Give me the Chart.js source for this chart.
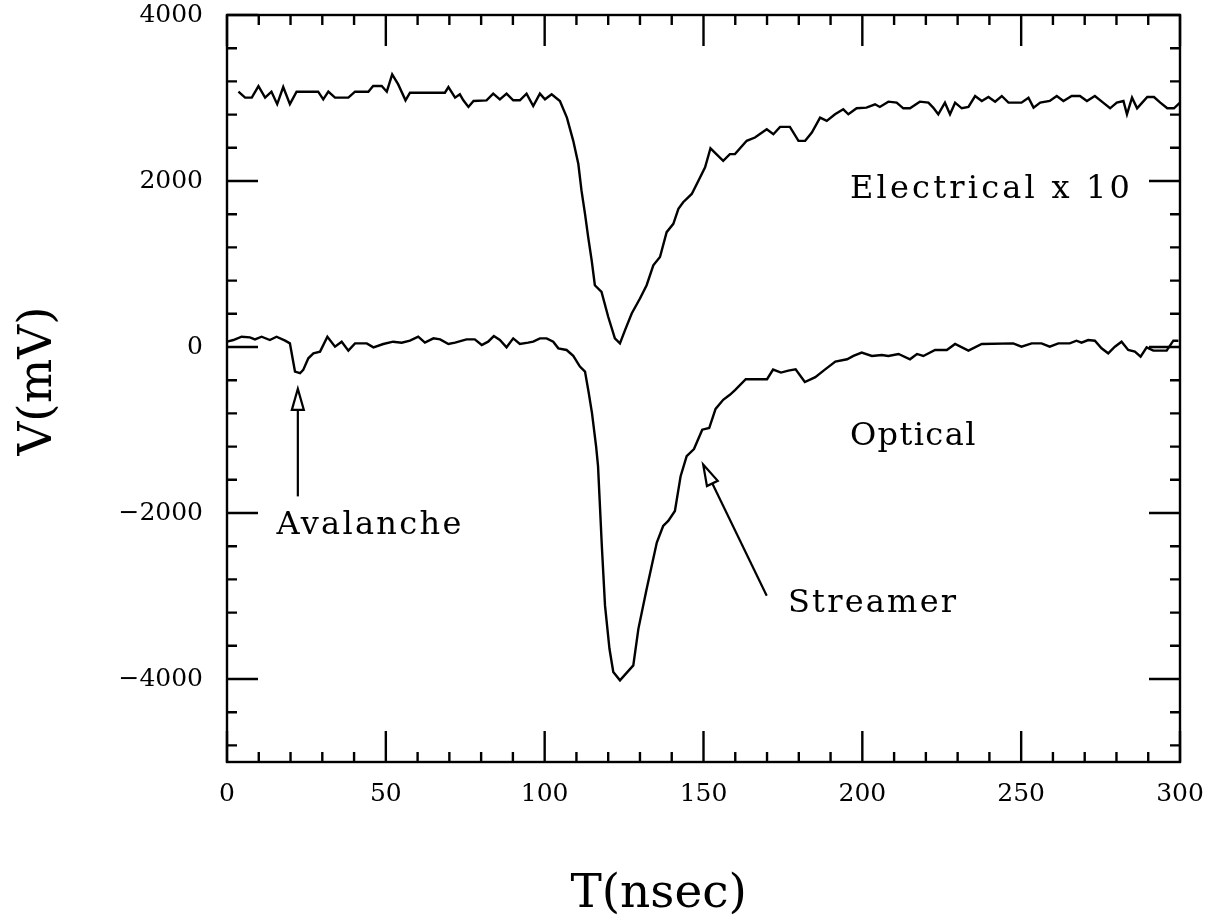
<!DOCTYPE html>
<html><head><meta charset="utf-8">
<script src="https://cdn.jsdelivr.net/npm/chart.js@4.4.1/dist/chart.umd.min.js"></script>
<style>html,body{margin:0;padding:0;background:#fff;} #wrap{width:1207px;height:923px;position:relative;}</style>
</head><body><div id="wrap"><canvas id="c"></canvas></div>
<script>
// Electrical x 10 trace
const elecT = [3.6,5.7,7.8,9.9,12,14,15.8,17.7,19.8,21.9,28.7,30.3,31.9,34,38.2,40.3,44.5,46,48.7,50.3,52,53.9,56.2,57.6,68.6,69.7,71.8,73.3,74.4,76,77.6,81.7,83.8,85.9,88,90.1,92.2,94.3,96.4,98.5,100.1,102.2,104.8,107,109,110.6,111.6,112.7,113.7,114.8,115.8,117.9,120,122.1,123.7,125.3,127.4,130,132.1,134.2,136.3,138.4,140.5,142.1,143.6,146.3,148.4,150.5,152.2,156.2,158.3,159.9,163.6,166.2,169.9,172,174.1,177.2,179.9,182,184.1,186.7,188.8,191.4,194,195.6,198.2,201.3,204,205.5,208.2,210.8,212.9,215,218.1,220.8,222.3,223.9,226,227.6,229.2,231.3,233.4,235.5,237.6,239.7,241.8,243.9,246,250.1,252.3,253.9,256,259,261.2,263.3,265.9,268.5,270.7,273.2,275.8,278,280.1,282.2,283.3,284.9,286.5,288.1,289.7,291.8,293.8,296,298.1,300];
const elecV = [3076,3004,3004,3144,3004,3076,2926,3132,2926,3076,3076,2984,3076,3004,3004,3076,3076,3144,3144,3076,3284,3164,2972,3064,3064,3132,3004,3044,2972,2892,2964,2972,3052,2984,3052,2972,2972,3052,2904,3052,2984,3044,2964,2764,2484,2204,1884,1604,1324,1044,744,664,364,104,44,204,404,584,744,984,1084,1384,1484,1664,1744,1844,2004,2164,2394,2244,2324,2324,2484,2524,2624,2564,2652,2652,2484,2484,2584,2764,2724,2804,2864,2804,2876,2884,2924,2892,2956,2944,2876,2876,2956,2944,2884,2804,2944,2804,2944,2876,2892,3024,2964,3012,2956,3024,2944,2944,3004,2884,2944,2964,3024,2964,3024,3024,2964,3024,2944,2876,2944,2964,2804,3004,2876,2944,3012,3012,2944,2876,2876,2944];
// Optical trace
const optT = [0,2,4.6,7.2,8.8,10.9,13.5,15.6,18.3,19.8,21.4,23,24,25.6,27.2,29.3,31.6,34,36.1,38.2,40.3,44,46.1,49.2,52.3,55,57.6,60.2,62.3,65,67.1,69.7,71.8,75.4,78,80.2,82.2,84,85.9,88,90.1,92.2,94.8,96.4,98.5,100.6,102.7,104.3,106.9,109,111.1,112.7,113.8,114.9,116.2,116.8,117.3,118,119,120.4,121.6,123.7,127.9,129.5,132.1,135.3,137.3,138.9,141,142.8,144.7,147,149.6,151.8,153.8,156.2,158.3,160,163.3,170,171.9,174.4,176.7,179,181.9,185.2,187.8,191.5,195.2,197.2,199.8,203,206.1,208.2,211.4,215,217.2,219.2,222.9,226.6,229.2,233.4,237.6,247.5,250.1,253.3,256.4,259,261.7,265.3,267.4,269,271.1,273.2,275.3,277.4,279.5,281.6,283.7,285.8,287.6,289.5,291.6,295.8,297.9,299.5];
const optV = [64,84,124,116,92,124,84,124,76,44,-296,-316,-276,-136,-76,-56,124,4,64,-44,44,44,-4,36,64,52,76,124,52,104,92,36,52,92,92,24,64,132,84,-4,104,36,52,64,104,104,64,-16,-36,-106,-236,-296,-536,-796,-1200,-1436,-1836,-2400,-3116,-3636,-3916,-4016,-3836,-3396,-2916,-2356,-2156,-2096,-1976,-1556,-1316,-1230,-996,-976,-746,-636,-576,-516,-388,-388,-272,-308,-284,-268,-422,-364,-284,-176,-148,-108,-68,-108,-96,-108,-84,-148,-84,-108,-36,-36,36,-44,36,44,4,44,44,4,44,44,76,52,84,76,-16,-76,4,64,-36,-56,-116,-4,-44,-44,76,76];

const xTickValues = [0,50,100,150,200,250,300];
const xTickLabels = ['0','50','100','150','200','250','300'];
const xMinorTicks = [10,20,30,40,60,70,80,90,110,120,130,140,160,170,180,190,210,220,230,240,260,270,280,290];
const yTickValues = [-4000,-2000,0,2000,4000];
const yTickLabels = ['\u22124000','\u22122000','0','2000','4000'];
const yMinorTicks = [-4800,-4400,-3600,-3200,-2800,-2400,-1600,-1200,-800,-400,400,800,1200,1600,2400,2800,3200,3600];

const SERIF = "'DejaVu Serif', serif";

const framePlugin = {
  id: 'frameTicks',
  afterDatasetsDraw(chart) {
    const {ctx, chartArea: a, scales: {x, y}} = chart;
    ctx.save();
    ctx.strokeStyle = '#000';
    ctx.lineWidth = 2.4;
    ctx.strokeRect(a.left, a.top, a.right - a.left, a.bottom - a.top);
    ctx.beginPath();
    const xt = (v, len) => { const p = x.getPixelForValue(v); ctx.moveTo(p, a.bottom); ctx.lineTo(p, a.bottom - len); ctx.moveTo(p, a.top); ctx.lineTo(p, a.top + len); };
    const yt = (v, len) => { const p = y.getPixelForValue(v); ctx.moveTo(a.left, p); ctx.lineTo(a.left + len, p); ctx.moveTo(a.right, p); ctx.lineTo(a.right - len, p); };
    xTickValues.forEach(v => xt(v, 31));
    xMinorTicks.forEach(v => xt(v, 10));
    yTickValues.forEach(v => yt(v, 31));
    yMinorTicks.forEach(v => yt(v, 10));
    ctx.stroke();

    // annotations
    ctx.fillStyle = '#000';
    ctx.font = "32px " + SERIF;
    ctx.textAlign = 'left';
    ctx.textBaseline = 'alphabetic';
    const txt = (s, t, v, sp) => { try { ctx.letterSpacing = sp; } catch (e) {} ctx.fillText(s, x.getPixelForValue(t), y.getPixelForValue(v)); };
    txt('Electrical x 10', 196.1, 1800, '3.2px');
    txt('Optical', 196.1, -1176, '1.4px');
    txt('Streamer', 176.6, -3192, '2.2px');
    txt('Avalanche', 15.6, -2256, '2.3px');
    try { ctx.letterSpacing = '0px'; } catch (e) {}

    ctx.lineWidth = 2.2;
    const arrow = (t0, v0, t1, v1) => {
      const x0 = x.getPixelForValue(t0), y0 = y.getPixelForValue(v0);
      const x1 = x.getPixelForValue(t1), y1 = y.getPixelForValue(v1);
      const dx = x1 - x0, dy = y1 - y0, L = Math.hypot(dx, dy);
      const ux = dx / L, uy = dy / L, hl = 21, hw = 6;
      const bx = x1 - ux * hl, by = y1 - uy * hl;
      ctx.beginPath();
      ctx.moveTo(x0, y0); ctx.lineTo(bx, by); ctx.stroke();
      ctx.beginPath();
      ctx.moveTo(x1, y1);
      ctx.lineTo(bx - uy * hw, by + ux * hw);
      ctx.lineTo(bx + uy * hw, by - ux * hw);
      ctx.closePath();
      ctx.fillStyle = '#fff'; ctx.fill(); ctx.stroke();
    };
    arrow(22.3, -1800, 22.3, -504);
    arrow(169.9, -2996, 149.9, -1416);
    ctx.restore();
  }
};

new Chart(document.getElementById('c'), {
  type: 'line',
  data: {
    datasets: [
      { label: 'Electrical x 10', data: elecT.map((t, i) => ({x: t, y: elecV[i]})), borderColor: '#000', borderWidth: 2.4, pointRadius: 0, tension: 0, fill: false },
      { label: 'Optical', data: optT.map((t, i) => ({x: t, y: optV[i]})), borderColor: '#000', borderWidth: 2.4, pointRadius: 0, tension: 0, fill: false }
    ]
  },
  options: {
    responsive: true, maintainAspectRatio: false, animation: false,
    layout: { padding: { top: 15, right: 27, left: 0, bottom: 0 } },
    plugins: { legend: { display: false }, tooltip: { enabled: false } },
    scales: {
      x: {
        type: 'linear', min: 0, max: 300,
        grid: { display: false, drawTicks: false }, border: { display: false },
        afterBuildTicks: s => { s.ticks = xTickValues.map(v => ({value: v})); },
        afterFit: s => { s.height = 161; s.paddingLeft = 0; s.paddingRight = 0; s.paddingTop = 0; s.paddingBottom = 0; },
        ticks: { padding: 17, color: '#000', maxRotation: 0, autoSkip: false, font: { family: SERIF, size: 25 },
                 callback: (v, i) => xTickLabels[i] },
        title: { display: true, text: 'T(nsec)      ', color: '#000', font: { family: SERIF, size: 47 }, padding: { top: 0, bottom: 0 } }
      },
      y: {
        type: 'linear', min: -5000, max: 4000,
        grid: { display: false, drawTicks: false }, border: { display: false },
        afterBuildTicks: s => { s.ticks = yTickValues.map(v => ({value: v})); },
        afterFit: s => { s.width = 227; s.paddingLeft = 0; s.paddingRight = 0; s.paddingTop = 0; s.paddingBottom = 0; },
        ticks: { padding: 24, color: '#000', autoSkip: false, font: { family: SERIF, size: 25 },
                 callback: (v, i) => yTickLabels[i] },
        title: { display: true, text: ' V(mV)', color: '#000', font: { family: SERIF, size: 47 }, padding: { top: 11, bottom: 0 } }
      }
    }
  },
  plugins: [framePlugin]
});
</script>
</body></html>
